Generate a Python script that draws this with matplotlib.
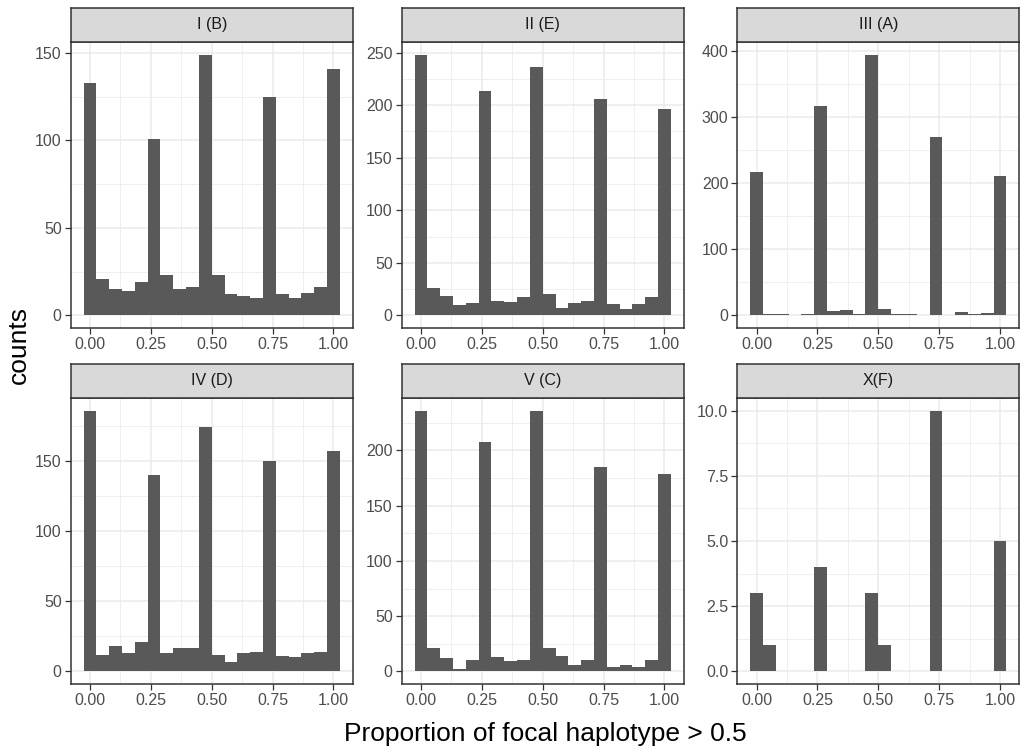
import numpy as np
import matplotlib
matplotlib.use('Agg')
from matplotlib import pyplot as plt
from matplotlib.ticker import MultipleLocator, AutoMinorLocator, FormatStrFormatter

plt.rcParams['font.family'] = ['Liberation Sans', 'DejaVu Sans']

# ggplot-style histogram: 20 bins centred on k/19
N_BINS = 20
BINWIDTH = 1 / (N_BINS - 1)

panel_titles = ['I (B)', 'II (E)', 'III (A)', 'IV (D)', 'V (C)', 'X(F)']

counts_I = [133, 21, 15, 14, 19, 101, 23, 15, 16, 149, 23, 12, 11, 10, 125, 12, 10, 13, 16, 141]
counts_II = [248, 26, 18, 10, 12, 213, 14, 13, 17, 236, 20, 7, 12, 14, 206, 11, 6, 11, 17, 196]
counts_III = [216, 2, 2, 1, 2, 317, 6, 8, 2, 394, 9, 2, 2, 1, 270, 1, 5, 2, 3, 211]
counts_IV = [186, 12, 18, 13, 21, 140, 13, 17, 17, 174, 12, 7, 13, 14, 150, 11, 10, 13, 14, 157]
counts_V = [236, 21, 12, 2, 10, 208, 13, 9, 10, 236, 21, 14, 6, 10, 185, 4, 6, 4, 10, 179]
counts_X = [3, 1, 0, 0, 0, 4, 0, 0, 0, 3, 1, 0, 0, 0, 10, 0, 0, 0, 0, 5]

all_counts = [counts_I, counts_II, counts_III, counts_IV, counts_V, counts_X]
y_steps = [50, 50, 100, 50, 50, 2.5]
x_ticks = [0.0, 0.25, 0.5, 0.75, 1.0]

W, H = 1021, 751
fig = plt.figure(figsize=(W / 100, H / 100), dpi=100)

col_left = [70.7, 401.7, 737.3]
panel_w = 282
row_strip_top = [8.3, 364.3]
strip_h = 33.3
panel_h = 286.8

dark = '#333333'
grid_col = '#EBEBEB'
tick_col = '#4D4D4D'

centers = np.arange(N_BINS) * BINWIDTH
xlo, xhi = -BINWIDTH / 2, 1 + BINWIDTH / 2
xpad = 0.05 * (xhi - xlo)

for i, (title, counts) in enumerate(zip(panel_titles, all_counts)):
    r, c = divmod(i, 3)
    left = col_left[c] / W
    strip_top = row_strip_top[r]
    ax_top = strip_top + strip_h
    ax = fig.add_axes([left, 1 - (ax_top + panel_h) / H, panel_w / W, panel_h / H])
    sax = fig.add_axes([left, 1 - ax_top / H, panel_w / W, strip_h / H])

    ax.bar(centers, counts, width=BINWIDTH, color='#595959', linewidth=0, zorder=2)
    ymax = max(counts)
    ax.set_xlim(xlo - xpad, xhi + xpad)
    ax.set_ylim(-0.05 * ymax, 1.05 * ymax)
    ax.set_xticks(x_ticks)
    ax.xaxis.set_major_formatter(FormatStrFormatter('%.2f'))
    ax.yaxis.set_major_locator(MultipleLocator(y_steps[i]))
    if y_steps[i] != int(y_steps[i]):
        ax.yaxis.set_major_formatter(FormatStrFormatter('%.1f'))
    else:
        ax.yaxis.set_major_formatter(FormatStrFormatter('%d'))
    ax.xaxis.set_minor_locator(AutoMinorLocator(2))
    ax.yaxis.set_minor_locator(AutoMinorLocator(2))
    ax.grid(which='major', color=grid_col, linewidth=1.1, zorder=0)
    ax.grid(which='minor', color=grid_col, linewidth=0.55, zorder=0)
    ax.set_axisbelow(True)
    ax.tick_params(which='minor', length=0)
    ax.tick_params(which='major', length=4, width=0.9, color=dark,
                   labelcolor=tick_col, labelsize=11.5, pad=2.5)
    for sp in ax.spines.values():
        sp.set_color(dark)
        sp.set_linewidth(1.1)

    sax.set_facecolor('#D9D9D9')
    sax.set_xticks([])
    sax.set_yticks([])
    for sp in sax.spines.values():
        sp.set_color(dark)
        sp.set_linewidth(1.1)
    sax.text(0.5, 0.5, title, ha='center', va='center', fontsize=11.5,
             color='#1A1A1A', transform=sax.transAxes)

fig.text(545 / W, 1 - 734 / H, 'Proportion of focal haplotype > 0.5',
         ha='center', va='center', fontsize=19)
fig.text(19 / W, 1 - 345 / H, 'counts', ha='center', va='center',
         rotation=90, fontsize=19)

fig.savefig('out.png', dpi=100)
